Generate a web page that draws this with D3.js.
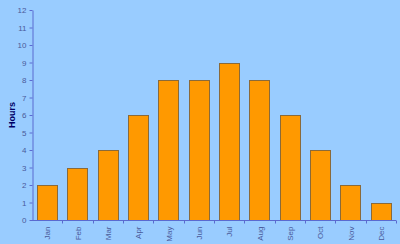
<!DOCTYPE html>
<meta charset="utf-8">
<style>
  body { margin: 0; background: #99ccff; }
  text { font-family: Arial, "Liberation Sans", sans-serif; }
</style>
<script src="https://d3js.org/d3.v7.min.js"></script>
<div id="chart"></div>
<script>

// data
var months = ["Jan","Feb","Mar","Apr","May","Jun","Jul","Aug","Sep","Oct","Nov","Dec"];
var hours = [2, 3, 4, 6, 8, 8, 9, 8, 6, 4, 2, 1];
var yTicks = [0,1,2,3,4,5,6,7,8,9,10,11,12];

var W = 400, H = 244;
var margin = {top: 10, right: 4, bottom: 24, left: 32},
    width = W - margin.left - margin.right,
    height = H - margin.top - margin.bottom;

var svg = d3.select("#chart")
  .append("svg")
    .attr("width", W)
    .attr("height", H)
    .style("background", "#99ccff");

var g = svg.append("g")
    .attr("transform", "translate(" + margin.left + "," + margin.top + ")");

var x = d3.scaleBand()
    .domain(months)
    .range([0, width])
    .paddingInner(0.34)
    .paddingOuter(0.17);

var y = d3.scaleLinear()
    .domain([0, 12])
    .range([height, 0]);

// bars
g.selectAll("rect.bar")
  .data(hours)
  .enter().append("rect")
    .attr("class", "bar")
    .attr("x", function(d, i) { return Math.round(x(months[i])) + 0.5; })
    .attr("y", function(d) { return Math.round(y(d)) + 0.5; })
    .attr("width", Math.round(x.bandwidth()))
    .attr("height", function(d) { return height - Math.round(y(d)); })
    .attr("fill", "#ff9900")
    .attr("stroke", "#8a6a3a")
    .attr("stroke-width", 1);

var axisColor = "#5a6ad0";
var labelColor = "#4a5a9a";

// y axis
var yAxis = g.append("g")
  .attr("transform", "translate(0.5,0)")
  .call(d3.axisLeft(y).tickValues(yTicks).tickSize(3).tickSizeOuter(0).tickPadding(3));
yAxis.select(".domain").attr("stroke", axisColor);
yAxis.selectAll(".tick line").attr("stroke", axisColor);
yAxis.selectAll(".tick text").attr("fill", labelColor).style("font-size", "8px");

// x axis: ticks between the bands
var xAxis = g.append("g")
  .attr("transform", "translate(0," + (height + 0.5) + ")");
xAxis.append("line")
  .attr("x1", 0).attr("x2", width)
  .attr("stroke", axisColor);
xAxis.selectAll("line.tick")
  .data(months.slice(1).concat(["end"]))
  .enter().append("line")
    .attr("class", "tick")
    .attr("x1", function(d, i) { return Math.round(width / 12 * (i + 1)) + 0.5; })
    .attr("x2", function(d, i) { return Math.round(width / 12 * (i + 1)) + 0.5; })
    .attr("y1", 0).attr("y2", 3)
    .attr("stroke", axisColor);
xAxis.selectAll("text")
  .data(months)
  .enter().append("text")
    .attr("transform", function(d) {
      return "translate(" + (x(d) + x.bandwidth() / 2 + 3) + ",6) rotate(-90)";
    })
    .attr("text-anchor", "end")
    .attr("fill", labelColor)
    .style("font-size", "8px")
    .text(function(d) { return d; });

// y title
svg.append("text")
  .attr("transform", "translate(15," + (margin.top + height / 2) + ") rotate(-90)")
  .attr("text-anchor", "middle")
  .attr("fill", "#000066")
  .style("font-size", "9px")
  .style("font-weight", "bold")
  .text("Hours");

</script>
